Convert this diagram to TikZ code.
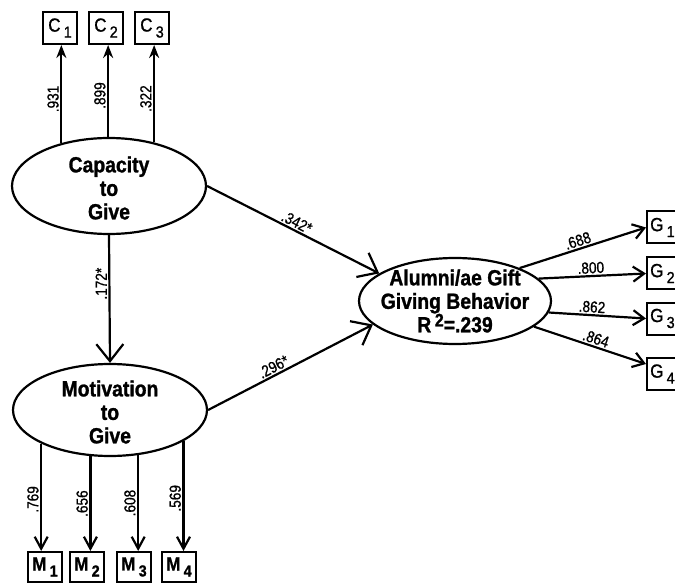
\documentclass[tikz,border=0pt]{standalone}
\usepackage{fontspec}
\setmainfont{Liberation Sans}
\newfontfamily\ellfont[FakeStretch=0.88,FakeBold=1.2]{Liberation Sans}
\newfontfamily\boxfont[FakeStretch=0.9,FakeBold=1]{Liberation Sans}
\newfontfamily\labfont[FakeStretch=0.85,FakeBold=0.8]{Liberation Sans}
\usetikzlibrary{arrows.meta,shapes.geometric}
\newcommand\subbx[2]{#1\,\raisebox{-6pt}{\fontsize{16}{16}\selectfont #2}}
\tikzset{
  ell/.style={draw, ellipse, inner sep=0pt, line width=2.2pt},
  elltext/.style={font=\ellfont\bfseries\fontsize{22}{23.5}\selectfont, align=center, inner sep=0pt},
  box/.style={draw, line width=2pt, minimum width=34pt, minimum height=32pt, inner sep=0pt, font=\boxfont\fontsize{19}{19}\selectfont},
  gtext/.style={anchor=west, inner sep=0pt, font=\boxfont\fontsize{19}{19}\selectfont},
  lab/.style={font=\labfont\fontsize{16}{16}\selectfont, inner sep=1.5pt},
  bigarr/.style={line width=2.2pt, -{Straight Barb[length=17pt,width=27pt]}},
  garr/.style={line width=2.2pt, -{Straight Barb[length=11pt,width=15pt]}},
  marr/.style={line width=2.2pt, -{Straight Barb[length=12pt,width=13pt]}},
  carr/.style={line width=2.2pt, -{Stealth[length=13pt,width=10pt]}},
}
\begin{document}
\begin{tikzpicture}[x=1pt,y=-1pt]
\useasboundingbox (0,0) rectangle (675,588);
\clip (0,0) rectangle (675,588);
\fill[white] (0,0) rectangle (675,588);

% latent variables
\node[ell, minimum width=194pt, minimum height=96pt] (cap) at (109,186) {};
\node[elltext] (capt) at (109,188) {Capacity\\to\\Give};
\node[ell, minimum width=194pt, minimum height=92pt] (mot) at (110,410) {};
\node[elltext] (mott) at (110,412) {Motivation\\to\\Give};
\node[ell, minimum width=192pt, minimum height=86pt] (alu) at (455,301) {};
\node[elltext] (alut) at (455,301) {Alumni/ae Gift\\Giving Behavior\\R\,\raisebox{6pt}{\fontsize{18}{18}\selectfont 2}=.239};

% indicator boxes
\node[box] (c1) at (60,28) {\subbx{C}{1}};
\node[box] (c2) at (106,28) {\subbx{C}{2}};
\node[box] (c3) at (152,28) {\subbx{C}{3}};

\node[box, minimum height=30pt] (m1) at (45,567) {\bfseries\subbx{M}{1}};
\node[box, minimum height=30pt] (m2) at (87,567) {\bfseries\subbx{M}{2}};
\node[box, minimum height=30pt] (m3) at (134,567) {\bfseries\subbx{M}{3}};
\node[box, minimum height=30pt] (m4) at (179,567) {\bfseries\subbx{M}{4}};

\node[box, minimum width=38pt] (g1) at (666,227.5) {};
\node[box, minimum width=38pt] (g2) at (666,273.5) {};
\node[box, minimum width=38pt] (g3) at (666,318.5) {};
\node[box, minimum width=38pt] (g4) at (666,374) {};
\node[gtext] (g1t) at ([xshift=4pt]g1.west) {\subbx{G}{1}};
\node[gtext] (g2t) at ([xshift=4pt]g2.west) {\subbx{G}{2}};
\node[gtext] (g3t) at ([xshift=4pt]g3.west) {\subbx{G}{3}};
\node[gtext] (g4t) at ([xshift=4pt]g4.west) {\subbx{G}{4}};

% capacity indicators
\draw[carr] (cap.138) -- (cap.138 |- c1.south) node[lab, rotate=90, anchor=south, pos=.45] {.931};
\draw[carr] (cap.91) -- (cap.91 |- c2.south) node[lab, rotate=90, anchor=south, pos=.45] {.899};
\draw[carr] (cap.44) -- (cap.44 |- c3.south) node[lab, rotate=90, anchor=south, pos=.45] {.322};

% structural paths
\draw[bigarr] (cap.south) -- (mot.north) node[lab, rotate=90, anchor=south, pos=.38] {.172*};
\draw[bigarr] (cap.east) -- (alu.160) node[lab, sloped, above, pos=.5] {.342*};
\draw[bigarr] (mot.east) -- (alu.196) node[lab, sloped, above, pos=.42] {.296*};

% motivation indicators
\draw[marr] (mot.206) -- (mot.206 |- m1.north) node[lab, rotate=90, anchor=south, pos=.52] {.769};
\draw[marr] (mot.247) -- (mot.247 |- m2.north) node[lab, rotate=90, anchor=south, pos=.5] {.656};
\draw[marr] (mot.302) -- (mot.302 |- m3.north) node[lab, rotate=90, anchor=south, pos=.5] {.608};
\draw[marr] (mot.337) -- (mot.337 |- m4.north) node[lab, rotate=90, anchor=south, pos=.52] {.569};

% gift giving indicators
\draw[garr] (alu.27) -- (g1.west) node[lab, sloped, above, pos=.48] {.688};
\draw[garr] (alu.15) -- (g2.west) node[lab, sloped, above, pos=.49] {.800};
\draw[garr] (alu.-7) -- (g3.west) node[lab, sloped, above, pos=.44] {.862};
\draw[garr] (alu.-18) -- ([yshift=10pt]g4.west) node[lab, sloped, above, pos=.53] {.864};
\end{tikzpicture}
\end{document}
